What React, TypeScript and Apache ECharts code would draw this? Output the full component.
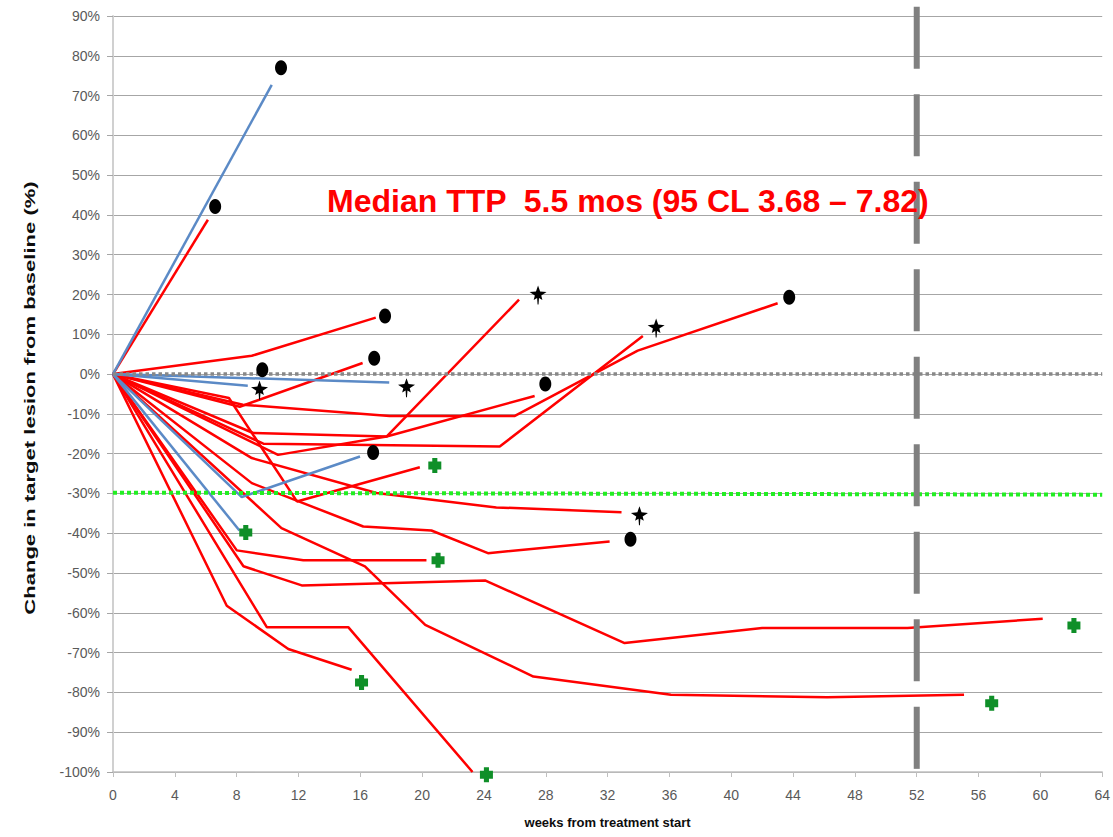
import React, { useEffect, useRef } from "react";
import * as echarts from "echarts";

type Pt = [number, number];

// ---- axis settings ----
const xMin = 0;
const xMax = 64;
const xStep = 4;
const yMin = -100;
const yMax = 90;
const yStep = 10;

// ---- patient lines (weeks, % change) ----
const blueUp: Pt[] = [[0, 0], [10.27, 72.7]];
const blueFlatShort: Pt[] = [[0, 0], [8.72, -2.9]];
const blueFlatLong: Pt[] = [[0, 0], [17.87, -2.1]];
const blueV: Pt[] = [[0, 0], [8.33, -30.9], [15.98, -20.7]];
const blueDown: Pt[] = [[0, 0], [8.18, -39.3]];

const redUp: Pt[] = [[0, 0], [6.14, 38.8]];
const redRise15: Pt[] = [[0, 0], [8.98, 4.6], [17.0, 14.2]];
const redRise4: Pt[] = [[0, 0], [8.2, -8.2], [16.15, 2.8]];
const redTo44: Pt[] = [[0, 0], [8.4, -7.7], [17.9, -10.5], [26.0, -10.5], [33.95, 5.9], [43.0, 17.8]];
const redTo27: Pt[] = [[0, 0], [9.07, -14.8], [17.7, -15.7], [26.27, 18.7]];
const redTo28: Pt[] = [[0, 0], [10.68, -20.3], [17.7, -15.7], [27.28, -5.5]];
const redTo35: Pt[] = [[0, 0], [9.73, -17.5], [25.02, -18.2], [34.28, 9.6]];
const redDip32: Pt[] = [[0, 0], [7.5, -6.0], [11.9, -32.0], [19.85, -23.4]];
const redTo34: Pt[] = [[0, 0], [8.98, -21.1], [17.05, -29.9], [24.8, -33.5], [32.9, -34.7]];
const redTo33: Pt[] = [[0, 0], [8.98, -27.4], [16.19, -38.3], [20.6, -39.3], [24.26, -45.0], [32.13, -42.1]];
const redTo21: Pt[] = [[0, 0], [8.01, -44.3], [12.31, -46.8], [20.28, -46.8]];
const redTo60: Pt[] = [[0, 0], [8.44, -48.3], [12.21, -53.1], [24.1, -51.9], [33.1, -67.6], [42.0, -63.8], [51.4, -63.8], [60.15, -61.5]];
const redTo55: Pt[] = [[0, 0], [10.9, -38.7], [16.3, -48.3], [20.2, -63.0], [27.2, -76.0], [36.1, -80.6], [46.2, -81.2], [55.06, -80.6]];
const redTo15: Pt[] = [[0, 0], [7.36, -58.2], [11.34, -69.1], [15.44, -74.3]];
const redTo23: Pt[] = [[0, 0], [9.95, -63.6], [15.22, -63.6], [23.26, -100]];

const blueLines: Pt[][] = [blueUp, blueFlatShort, blueFlatLong, blueV, blueDown];
const redLines: Pt[][] = [
  redUp, redRise15, redRise4, redTo44, redTo27, redTo28, redTo35, redDip32,
  redTo34, redTo33, redTo21, redTo60, redTo55, redTo15, redTo23,
];

// ---- end-of-line markers ----
const circleMarkers: Pt[] = [
  [10.87, 77.0], [6.61, 42.1], [17.6, 14.6], [16.9, 4.0], [9.66, 1.1],
  [16.83, -19.7], [27.97, -2.5], [43.75, 19.3], [33.48, -41.5],
];
const starMarkers: Pt[] = [
  [9.48, -4.0], [18.99, -3.4], [27.5, 19.9], [35.14, 11.6], [34.06, -35.6],
];
const plusMarkers: Pt[] = [
  [8.59, -39.8], [20.82, -23.0], [21.03, -46.8], [16.08, -77.5],
  [24.16, -100.7], [62.17, -63.2], [56.85, -82.7],
];

// ---- reference lines ----
const zeroLine: Pt[] = [[0, 0], [64, 0]];
const responseLine: Pt[] = [[0, -29.8], [64, -30.3]];
const week52Line: Pt[] = [[52, 92.3], [52, -100]];

const annotation = "Median TTP  5.5 mos (95 CL 3.68 – 7.82)";
const yTitle = "Change in target lesion from baseline (%)";
const xTitle = "weeks from treatment start";

const FONT = "'Liberation Sans', Arial, sans-serif";

const starPath =
  "path://M0,-10 L2.2,-3.4 L9,-2.6 L3.4,1.2 L4.6,6 L1,3.8 L0.5,11 L-0.5,11 L-1,3.8 L-4.6,6 L-3.4,1.2 L-9,-2.6 L-2.2,-3.4 Z";
const plusPath =
  "path://M-2.5,-7.5 L2.5,-7.5 L2.5,-4 L6.4,-4 L6.4,4 L2.5,4 L2.5,7.5 L-2.5,7.5 L-2.5,4 L-6.4,4 L-6.4,-4 L-2.5,-4 Z";

export default function App() {
  const ref = useRef<HTMLDivElement>(null);

  useEffect(() => {
    if (!ref.current) return;
    const chart = echarts.init(ref.current, undefined, { renderer: "svg" });

    const lineSeries = (data: Pt[], color: string) => ({
      type: "line",
      data,
      showSymbol: false,
      symbol: "none",
      silent: true,
      lineStyle: { color, width: 2.5 },
      z: 2,
    });

    const option: any = {
      animation: false,
      backgroundColor: "#ffffff",
      grid: { left: 113, right: 10, top: 16, bottom: 65 },
      xAxis: {
        type: "value",
        min: xMin,
        max: xMax,
        interval: xStep,
        name: xTitle,
        nameLocation: "middle",
        nameGap: 44,
        nameTextStyle: { fontSize: 13, fontWeight: "bold", color: "#0d0d0d", fontFamily: FONT },
        axisLine: { show: true, onZero: false, lineStyle: { color: "#bfbfbf", width: 1.5 } },
        axisTick: { show: true, length: 5, lineStyle: { color: "#bfbfbf" } },
        axisLabel: { fontSize: 14, color: "#595959", margin: 16, fontFamily: FONT },
        splitLine: { show: false },
      },
      yAxis: {
        type: "value",
        min: yMin,
        max: yMax,
        interval: yStep,
        axisLine: { show: true, lineStyle: { color: "#d0d0d0", width: 2 } },
        axisTick: { show: true, length: 6, lineStyle: { color: "#a6a6a6" } },
        axisLabel: { fontSize: 14, color: "#595959", margin: 13, fontFamily: FONT, formatter: "{value}%" },
        splitLine: { show: true, lineStyle: { color: "#a6a6a6", width: 1 } },
      },
      graphic: [
        {
          type: "text",
          x: 327,
          y: 201,
          z: 100,
          style: {
            text: annotation,
            fill: "#ff0000",
            fontSize: 32,
            fontWeight: "bold",
            fontFamily: FONT,
            verticalAlign: "middle",
            align: "left",
          },
        },
        {
          type: "text",
          x: 30,
          y: 398,
          rotation: Math.PI / 2,
          scaleX: 1.47,
          style: {
            text: yTitle,
            fill: "#0d0d0d",
            fontSize: 15,
            fontWeight: "bold",
            fontFamily: FONT,
            align: "center",
            verticalAlign: "middle",
          },
        },
      ],
      series: [
        ...redLines.map((d) => lineSeries(d, "#ff0000")),
        ...blueLines.map((d) => lineSeries(d, "#5b8ac6")),
        {
          type: "line",
          data: zeroLine,
          symbol: "none",
          silent: true,
          lineStyle: { color: "#888888", width: 3.5, type: [3.5, 3] },
          z: 3,
        },
        {
          type: "line",
          data: responseLine,
          symbol: "none",
          silent: true,
          lineStyle: { color: "#22ee22", width: 4, type: [4, 3] },
          z: 3,
        },
        {
          type: "line",
          data: week52Line,
          symbol: "none",
          silent: true,
          clip: false,
          lineStyle: { color: "#808080", width: 6, type: [62, 25.5] },
          z: 4,
        },
        {
          type: "scatter",
          data: circleMarkers,
          symbol: "circle",
          symbolSize: [12, 15],
          itemStyle: { color: "#000000", opacity: 1 },
          clip: false,
          silent: true,
          z: 5,
        },
        {
          type: "scatter",
          data: starMarkers,
          symbol: starPath,
          symbolSize: [17, 19],
          itemStyle: { color: "#000000", opacity: 1 },
          clip: false,
          silent: true,
          z: 5,
        },
        {
          type: "scatter",
          data: plusMarkers,
          symbol: plusPath,
          symbolSize: [13, 15],
          itemStyle: { color: "#0f8f28", opacity: 1 },
          clip: false,
          silent: true,
          z: 5,
        },
      ],
    };

    chart.setOption(option);
    return () => chart.dispose();
  }, []);

  return (
    <div
      ref={ref}
      style={{ position: "absolute", left: 0, top: 0, width: 1113, height: 837, background: "#fff" }}
    />
  );
}
